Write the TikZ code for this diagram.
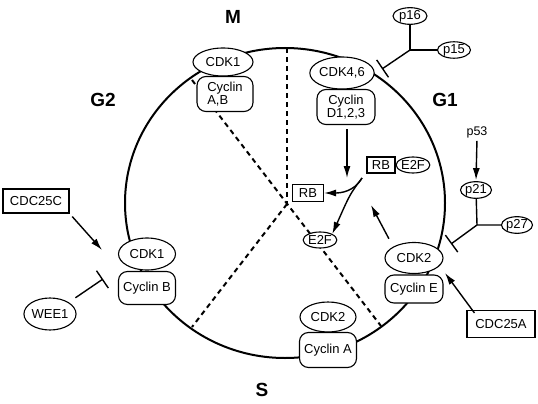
\documentclass[tikz,border=0pt]{standalone}
\usepackage{fontspec}
\setmainfont{Liberation Sans}
\usetikzlibrary{shapes.geometric,arrows.meta}
\tikzset{
  base/.style={font=\fontsize{13}{13}\selectfont, inner sep=0pt, fill=white, draw, line width=1.1pt},
  ell/.style={base, ellipse},
  rbox/.style={base, rectangle, rounded corners=9pt},
  sbox/.style={base, rectangle},
  lab/.style={font=\bfseries\fontsize{19}{19}\selectfont},
  act/.style={-{Latex[length=12pt,width=7pt]}, line width=1.4pt},
  inh/.style={-{Bar[width=21pt,line width=1.4pt]}, line width=1.4pt},
  cyc/.style={line width=2pt},
  dsh/.style={line width=2pt, dash pattern=on 5pt off 4pt},
}
\begin{document}
\begin{tikzpicture}[x=1pt,y=-1pt]
\useasboundingbox (0,0) rectangle (538,404);
% cycle circle
\draw[cyc] (285,203) ellipse [x radius=160pt, y radius=155pt];
% phase dividers
\coordinate (X0) at (287,204);
\coordinate (dtop) at (287,48);
\coordinate (dul) at (192,80);
\coordinate (dlr) at (381,326);
\coordinate (dll) at (192,327);
\draw[dsh] (dtop) -- (X0);
\draw[dsh] (dul) -- (dlr);
\draw[dsh] (X0) -- (dll);
% phase labels
\node[lab] (lM) at (233,17) {M};
\node[lab] (lG1) at (445,100) {G1};
\node[lab] (lG2) at (103,100) {G2};
\node[lab] (lS) at (262,390) {S};
% M
\node[ell, minimum width=60pt, minimum height=28pt] (cdk1m) at (223,62) {CDK1};
\node[rbox, minimum width=56pt, minimum height=35pt, align=left] (cycAB) at (225,94) {Cyclin\\A,B};
% G1
\node[ell, minimum width=56pt, minimum height=32pt] (cdk46) at (342,73) {CDK4,6};
\node[rbox, minimum width=58pt, minimum height=35pt, align=center] (cycD) at (346,107) {Cyclin\\D1,2,3};
\node[ell, minimum width=34pt, minimum height=15pt] (p16) at (410,16) {p16};
\node[ell, minimum width=33pt, minimum height=15pt] (p15) at (454,50) {p15};
\coordinate (J1) at (410,50);
\coordinate (b1) at (382,69);
\draw[line width=1.4pt] (p16) -- (J1) -- (p15);
\draw[inh] (J1) -- (b1);
\node[sbox, minimum width=28pt, minimum height=16pt] (rb1) at (381,165) {RB};
\node[ell, minimum width=32pt, minimum height=16pt] (e2f1) at (413,165) {E2F};
\node[sbox, minimum width=31pt, minimum height=17pt] (rb2) at (308,193) {RB};
\node[ell, minimum width=30pt, minimum height=16pt] (e2f2) at (320,240) {E2F};
\coordinate (a1) at (347,178);
\draw[act, shorten <=4pt] (cycD.south -| a1) -- (a1);
\coordinate (sp) at (362,178);
\draw[act] (sp) .. controls (354,192) and (340,193) .. (rb2.east);
\draw[act] (sp) .. controls (350,194) .. (e2f2.north east);
\node[font=\fontsize{12.5}{13}\selectfont, inner sep=1pt] (p53) at (477,132) {p53};
\node[ell, minimum width=31pt, minimum height=15pt] (p21) at (476,190) {p21};
\node[ell, minimum width=31pt, minimum height=14pt] (p27) at (517,225) {p27};
\draw[act, shorten <=2pt, shorten >=1pt] (p53.south) -- (p21.north);
\coordinate (J2) at (477,225);
\coordinate (b2) at (451,244);
\draw[line width=1.4pt] (p21) -- (J2) -- (p27);
\draw[inh] (J2) -- (b2);
\node[ell, minimum width=58pt, minimum height=31pt] (cdk2g1) at (414,258) {CDK2};
\node[rbox, minimum width=58pt, minimum height=28pt] (cycE) at (414,289) {Cyclin E};
\node[sbox, minimum width=68pt, minimum height=27pt] (cdc25a) at (501,324) {CDC25A};
\coordinate (t1) at (371,205);
\draw[act, shorten <=9pt] (cdk2g1.north west) -- (t1);
\coordinate (t2) at (445,273);
\draw[act] ([xshift=8pt,yshift=-3pt]cdc25a.north west) -- (t2);
% G2
\node[sbox, minimum width=66pt, minimum height=24pt] (cdc25c) at (36,201) {CDC25C};
\node[ell, minimum width=57pt, minimum height=32pt] (cdk1g2) at (147,254) {CDK1};
\node[rbox, minimum width=57pt, minimum height=33pt] (cycB) at (147,288) {Cyclin B};
\node[ell, minimum width=44pt, minimum height=32pt] (wee1) at (50,314) {WEE1};
\coordinate (t3) at (102,250);
\draw[act, shorten <=4pt] (cdc25c.south east) -- (t3);
\coordinate (b3) at (103,279);
\draw[inh, shorten <=8pt] (wee1.north east) -- (b3);
% S
\node[ell, minimum width=56pt, minimum height=30pt] (cdk2s) at (328,317) {CDK2};
\node[rbox, minimum width=57pt, minimum height=35pt] (cycA) at (328,350) {Cyclin A};
\end{tikzpicture}
\end{document}
